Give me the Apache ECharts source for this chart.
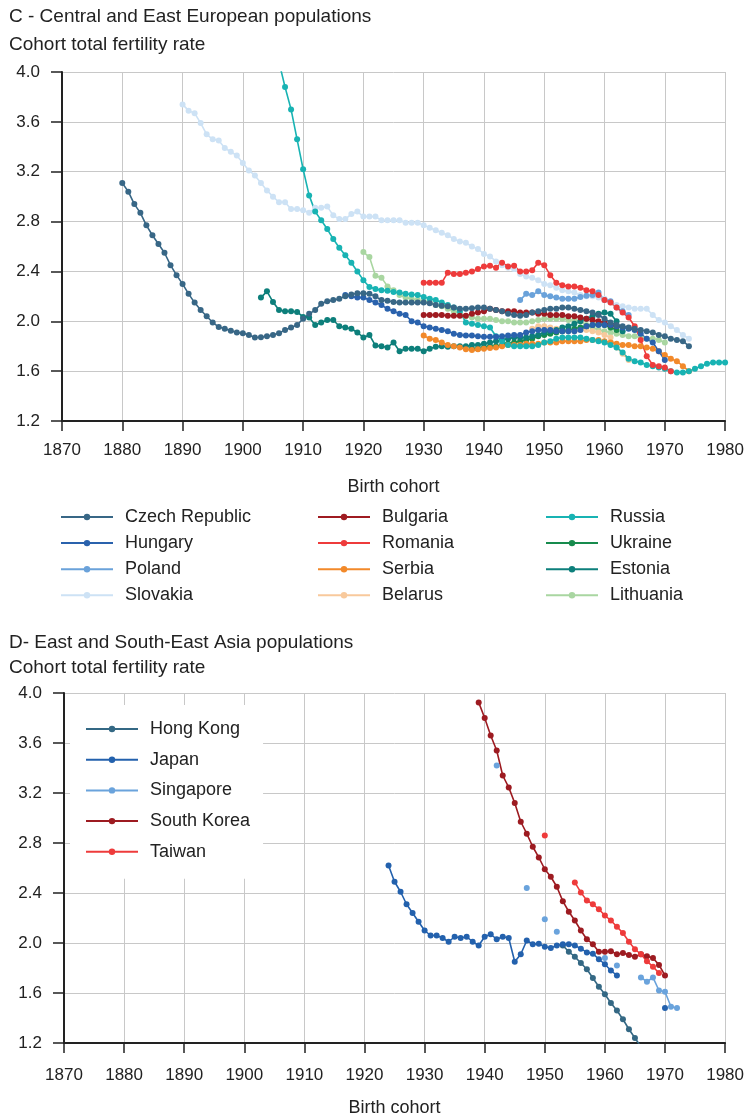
<!DOCTYPE html>
<html>
<head>
<meta charset="utf-8">
<script src="https://cdn.jsdelivr.net/npm/echarts@6/dist/echarts.min.js"></script>
<style>
  html, body { margin: 0; padding: 0; background: #fff; }
  #chart { width: 747px; height: 1119px; }
</style>
</head>
<body>
<div id="chart"></div>
<script>
// panel C - Central and East European populations (first birth year + yearly values)
const czechStart = 1880
const czech = [3.11, 3.04, 2.94, 2.87, 2.77, 2.69, 2.62, 2.55, 2.45, 2.37,
  2.30, 2.22, 2.15, 2.09, 2.04, 1.99, 1.955, 1.94, 1.925, 1.91,
  1.905, 1.89, 1.87, 1.872, 1.88, 1.89, 1.905, 1.93, 1.95, 1.97,
  2.02, 2.06, 2.09, 2.14, 2.16, 2.17, 2.18, 2.20, 2.215, 2.225,
  2.225, 2.22, 2.20, 2.17, 2.165, 2.155, 2.15, 2.15, 2.15, 2.15,
  2.15, 2.145, 2.13, 2.125, 2.12, 2.11, 2.10, 2.10, 2.105, 2.11,
  2.11, 2.10, 2.09, 2.08, 2.06, 2.05, 2.045, 2.05, 2.07, 2.08,
  2.09, 2.10, 2.10, 2.11, 2.11, 2.10, 2.09, 2.08, 2.07, 2.05,
  2.02, 1.99, 1.97, 1.96, 1.95, 1.94, 1.93, 1.92, 1.91, 1.89,
  1.88, 1.86, 1.85, 1.84, 1.80]

const hungaryStart = 1917
const hungary = [2.21, 2.20, 2.19, 2.19, 2.17, 2.15, 2.13, 2.10, 2.08, 2.06,
  2.05, 2.00, 1.99, 1.96, 1.95, 1.94, 1.93, 1.92, 1.90, 1.89,
  1.885, 1.885, 1.88, 1.875, 1.875, 1.875, 1.88, 1.885, 1.89, 1.89,
  1.91, 1.92, 1.93, 1.93, 1.93, 1.92, 1.92, 1.92, 1.92, 1.93,
  1.96, 1.97, 1.97, 1.97, 1.97, 1.96, 1.95, 1.94, 1.93, 1.90,
  1.86, 1.83, 1.76, 1.69]

const polandStart = 1946
const poland = [2.17, 2.22, 2.21, 2.24, 2.21, 2.20, 2.19, 2.18, 2.18, 2.18,
  2.195, 2.205, 2.21, 2.23, 2.17, 2.16, 2.11, 2.08, 2.05]

const slovakiaStart = 1890
const slovakia = [3.74, 3.69, 3.67, 3.59, 3.50, 3.46, 3.45, 3.39, 3.36, 3.33,
  3.27, 3.21, 3.17, 3.11, 3.05, 3.00, 2.955, 2.955, 2.90, 2.90,
  2.89, 2.87, 2.91, 2.91, 2.92, 2.85, 2.82, 2.82, 2.86, 2.88,
  2.84, 2.84, 2.84, 2.81, 2.81, 2.81, 2.81, 2.79, 2.79, 2.79,
  2.77, 2.75, 2.73, 2.71, 2.69, 2.66, 2.64, 2.63, 2.60, 2.58,
  2.54, 2.52, 2.48, 2.45, 2.43, 2.42, 2.38, 2.36, 2.35, 2.33,
  2.30, 2.29, 2.27, 2.25, 2.24, 2.23, 2.21, 2.20, 2.20, 2.19,
  2.18, 2.15, 2.13, 2.12, 2.11, 2.10, 2.10, 2.10, 2.05, 2.01,
  1.99, 1.96, 1.93, 1.89, 1.86]

const bulgariaStart = 1930
const bulgaria = [2.05, 2.05, 2.05, 2.05, 2.045, 2.045, 2.045, 2.045, 2.06, 2.07,
  2.08, 2.10, 2.09, 2.08, 2.08, 2.08, 2.07, 2.07, 2.07, 2.06,
  2.06, 2.05, 2.05, 2.05, 2.04, 2.04, 2.03, 2.02, 2.01, 2.00,
  1.99, 1.97, 1.96]

const romaniaStart = 1930
const romania = [2.31, 2.31, 2.31, 2.31, 2.39, 2.38, 2.38, 2.39, 2.40, 2.42,
  2.44, 2.445, 2.43, 2.47, 2.44, 2.445, 2.40, 2.40, 2.41, 2.47,
  2.45, 2.37, 2.31, 2.29, 2.28, 2.28, 2.27, 2.25, 2.24, 2.21,
  2.17, 2.15, 2.11, 2.07, 2.03, 1.96, 1.85, 1.72, 1.65, 1.64,
  1.63, 1.60]

const serbiaStart = 1930
const serbia = [1.885, 1.86, 1.85, 1.83, 1.81, 1.80, 1.79, 1.775, 1.77, 1.775,
  1.78, 1.785, 1.79, 1.80, 1.81, 1.81, 1.81, 1.82, 1.82, 1.82,
  1.83, 1.83, 1.83, 1.84, 1.84, 1.84, 1.84, 1.85, 1.85, 1.85,
  1.84, 1.83, 1.82, 1.81, 1.81, 1.80, 1.80, 1.79, 1.78, 1.76,
  1.73, 1.70, 1.68, 1.64, 1.60]

const belarusStart = 1948
const belarus = [1.94, 1.96, 1.96, 1.95, 1.94, 1.92, 1.92, 1.92, 1.93, 1.93,
  1.92, 1.91, 1.89, 1.87, 1.79, 1.74, 1.69]

const russiaStart = 1905
const russia = [4.35, 4.08, 3.88, 3.70, 3.46, 3.22, 3.01, 2.88, 2.81, 2.74,
  2.66, 2.59, 2.53, 2.47, 2.40, 2.33, 2.275, 2.26, 2.25, 2.245,
  2.235, 2.23, 2.22, 2.215, 2.21, 2.195, 2.18, 2.17, 2.15, 2.13,
  2.11, 2.08, 1.99, 1.98, 1.97, 1.96, 1.95, 1.88, 1.84, 1.81,
  1.80, 1.80, 1.80, 1.80, 1.81, 1.83, 1.84, 1.86, 1.87, 1.87,
  1.87, 1.87, 1.86, 1.85, 1.84, 1.83, 1.81, 1.79, 1.75, 1.70,
  1.68, 1.67, 1.65, 1.64, 1.63, 1.62, 1.60, 1.59, 1.59, 1.60,
  1.62, 1.64, 1.66, 1.67, 1.67, 1.67]

const ukraineStart = 1938
const ukraine = [1.78, 1.78, 1.79, 1.80, 1.80, 1.81, 1.82, 1.83, 1.84, 1.85,
  1.86, 1.88, 1.89, 1.90, 1.91, 1.92, 1.93, 1.94, 1.95, 1.96,
  1.97, 1.98, 1.97, 1.95, 1.93]

const estoniaStart = 1903
const estonia = [2.19, 2.24, 2.155, 2.09, 2.08, 2.08, 2.075, 2.035, 2.03, 1.97,
  1.99, 2.01, 2.01, 1.96, 1.95, 1.94, 1.91, 1.87, 1.89, 1.805,
  1.80, 1.79, 1.83, 1.76, 1.78, 1.78, 1.78, 1.76, 1.78, 1.795,
  1.80, 1.795, 1.80, 1.80, 1.80, 1.81, 1.81, 1.82, 1.83, 1.84,
  1.85, 1.86, 1.87, 1.87, 1.87, 1.88, 1.89, 1.91, 1.92, 1.93,
  1.95, 1.96, 1.98, 2.00, 2.02, 2.04, 2.06, 2.07, 2.06, 2.00,
  1.92]

const lithuaniaStart = 1920
const lithuania = [2.555, 2.515, 2.365, 2.35, 2.28, 2.25, 2.21, 2.19, 2.18, 2.17,
  2.16, 2.15, 2.13, 2.12, 2.10, 2.08, 2.06, 2.04, 2.03, 2.02,
  2.02, 2.02, 2.01, 2.00, 2.00, 1.99, 1.99, 1.99, 2.00, 2.01,
  2.02, 2.02, 2.02, 2.02, 2.01, 2.01, 2.00, 1.97, 1.95, 1.93,
  1.92, 1.91, 1.90, 1.89, 1.88, 1.88, 1.87, 1.86, 1.86, 1.85,
  1.83]

// panel D - East and South-East Asia populations (null = no value)
const hongkongStart = 1953
const hongkong = [1.98, 1.93, 1.89, 1.84, 1.79, 1.72, 1.65, 1.59, 1.52, 1.46,
  1.39, 1.31, 1.24, 1.17, 1.11]

const japanStart = 1924
const japan = [2.62, 2.49, 2.41, 2.31, 2.24, 2.17, 2.10, 2.06, 2.06, 2.04,
  2.01, 2.05, 2.04, 2.05, 2.01, 1.98, 2.05, 2.07, 2.03, 2.05,
  2.04, 1.85, 1.91, 2.02, 1.99, 1.995, 1.97, 1.96, 1.98, 1.99,
  1.99, 1.98, 1.955, 1.925, 1.915, 1.87, 1.83, 1.78, 1.74, null,
  null, null, null, null, null, null, 1.48]

const singaporeStart = 1942
const singapore = [3.42, null, null, null, null, 2.44, null, null, 2.19, null,
  2.09, null, null, null, null, null, null, null, 1.88, null,
  1.82, null, null, null, 1.725, 1.69, 1.725, 1.62, 1.61, 1.49,
  1.48]

const koreaStart = 1939
const korea = [3.925, 3.80, 3.66, 3.54, 3.34, 3.245, 3.12, 2.97, 2.875, 2.77,
  2.685, 2.59, 2.53, 2.45, 2.335, 2.25, 2.18, 2.10, 2.03, 1.99,
  1.93, 1.93, 1.935, 1.91, 1.92, 1.905, 1.89, 1.91, 1.895, 1.88,
  1.825, 1.74]

const taiwanStart = 1950
const taiwan = [2.86, null, null, null, null, 2.485, 2.405, 2.34, 2.31, 2.27,
  2.22, 2.18, 2.13, 2.08, 2.01, 1.95, 1.91, 1.855, 1.81, 1.76]

const yTicks = [1.2, 1.6, 2.0, 2.4, 2.8, 3.2, 3.6, 4.0]

const FONT = "'Liberation Sans', Arial, sans-serif"
const INK = '#222'

function pairs(start, vals) {
  return vals.map((v, i) => [start + i, v == null ? '-' : v])
}

function line(name, start, vals, color, panel) {
  return {
    name: name,
    type: 'line',
    xAxisIndex: panel,
    yAxisIndex: panel,
    data: pairs(start, vals),
    symbol: 'circle',
    symbolSize: 6,
    showSymbol: true,
    showAllSymbol: true,
    connectNulls: false,
    clip: true,
    lineStyle: { color: color, width: 1.6 },
    itemStyle: { color: color },
    emphasis: { disabled: true }
  }
}

function xAxis(panel, gap, margin) {
  return {
    type: 'value', gridIndex: panel, min: 1870, max: 1980, interval: 10,
    name: 'Birth cohort', nameLocation: 'middle', nameGap: gap,
    nameTextStyle: { fontFamily: FONT, fontSize: 18, color: INK },
    axisLine: { show: true, onZero: false, lineStyle: { color: INK, width: 2 } },
    axisTick: { show: true, length: 10, lineStyle: { color: INK, width: 1.5 } },
    axisLabel: { fontFamily: FONT, fontSize: 17, color: INK, margin: margin,
      formatter: v => String(v) },
    splitLine: { show: true, lineStyle: { color: '#c8c8c8', width: 1 } }
  }
}

function yAxis(panel) {
  return {
    type: 'value', gridIndex: panel, min: 1.2, max: 4.0, interval: 0.4,
    axisLine: { show: true, lineStyle: { color: INK, width: 2 } },
    axisTick: { show: true, length: 11, lineStyle: { color: INK, width: 1.5 } },
    axisLabel: { fontFamily: FONT, fontSize: 17, color: INK, margin: 22,
      formatter: v => {
        const t = yTicks.find(k => Math.abs(k - v) < 1e-6)
        return t == null ? '' : t.toFixed(1)
      } },
    splitLine: { show: true, lineStyle: { color: '#c8c8c8', width: 1 } }
  }
}

function legend(names, left, top, extra) {
  return Object.assign({
    data: names,
    orient: 'vertical',
    left: left,
    top: top,
    padding: 0,
    itemWidth: 52,
    itemHeight: 8,
    itemGap: 8.1,
    selectedMode: false,
    textStyle: { fontFamily: FONT, fontSize: 18, color: INK, padding: [0, 0, 0, 7] }
  }, extra || {})
}

const titleStyle = { fontFamily: FONT, fontSize: 19, fontWeight: 'normal', color: INK }

const chart = echarts.init(document.getElementById('chart'), null, { renderer: 'canvas' })

chart.setOption({
  animation: false,
  backgroundColor: '#fff',
  title: [
    { text: 'C - Central and East European populations', left: 9, top: 7, padding: 0, textStyle: titleStyle },
    { text: 'Cohort total fertility rate', left: 9, top: 35, padding: 0, textStyle: titleStyle },
    { text: 'D- East and South-East Asia populations', left: 9, top: 633, padding: 0, textStyle: titleStyle },
    { text: 'Cohort total fertility rate', left: 9, top: 658, padding: 0, textStyle: titleStyle }
  ],
  grid: [
    { left: 62, right: 20, top: 72, bottom: 698 },
    { left: 64, right: 18, top: 693, bottom: 76 }
  ],
  xAxis: [xAxis(0, 57, 21), xAxis(1, 56, 24)],
  yAxis: [yAxis(0), yAxis(1)],
  legend: [
    legend(['Czech Republic', 'Hungary', 'Poland', 'Slovakia'], 60, 508),
    legend(['Bulgaria', 'Romania', 'Serbia', 'Belarus'], 317, 508),
    legend(['Russia', 'Ukraine', 'Estonia', 'Lithuania'], 545, 508),
    legend(['Hong Kong', 'Japan', 'Singapore', 'South Korea', 'Taiwan'], 70, 705, {
      padding: [15, 13, 18, 15], itemGap: 12.7, backgroundColor: '#fff'
    })
  ],
  series: [
    line('Slovakia', slovakiaStart, slovakia, '#cde2f5', 0),
    line('Lithuania', lithuaniaStart, lithuania, '#a9d6a1', 0),
    line('Belarus', belarusStart, belarus, '#f8c99c', 0),
    line('Ukraine', ukraineStart, ukraine, '#178b4d', 0),
    line('Estonia', estoniaStart, estonia, '#0d7f7b', 0),
    line('Serbia', serbiaStart, serbia, '#f2892a', 0),
    line('Russia', russiaStart, russia, '#18b3b3', 0),
    line('Bulgaria', bulgariaStart, bulgaria, '#9f1b21', 0),
    line('Poland', polandStart, poland, '#6aa2da', 0),
    line('Hungary', hungaryStart, hungary, '#2a62ad', 0),
    line('Romania', romaniaStart, romania, '#ee3b3b', 0),
    line('Czech Republic', czechStart, czech, '#386786', 0),

    line('Hong Kong', hongkongStart, hongkong, '#346884', 1),
    line('Japan', japanStart, japan, '#2361ad', 1),
    line('Singapore', singaporeStart, singapore, '#6aa3dc', 1),
    line('South Korea', koreaStart, korea, '#9d1b21', 1),
    line('Taiwan', taiwanStart, taiwan, '#ee3b3b', 1)
  ]
})
</script>
</body>
</html>
